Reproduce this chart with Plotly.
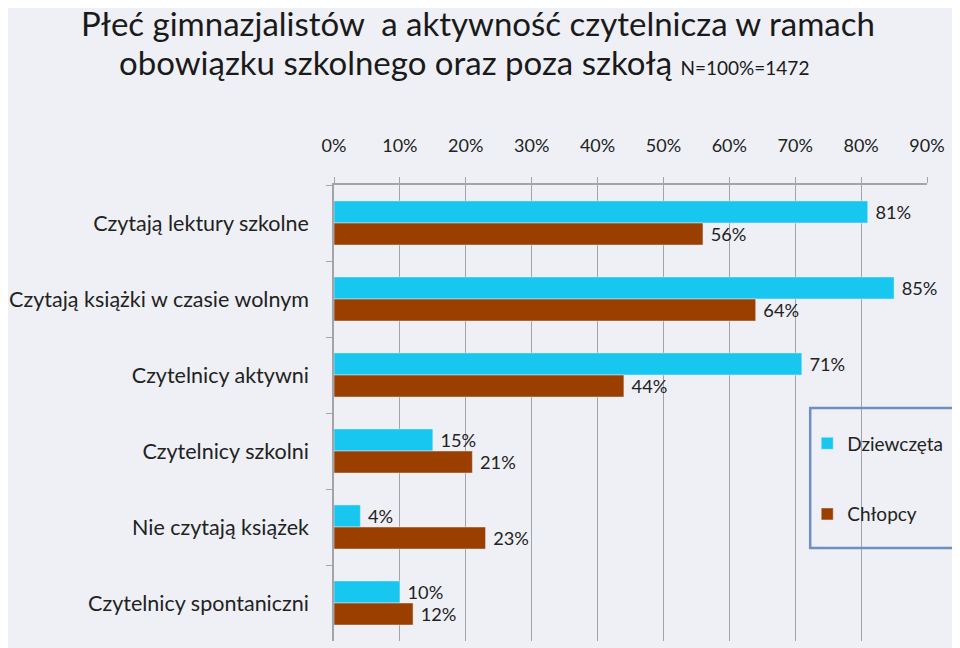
import plotly.graph_objects as go

categories = [
    "Czytają lektury szkolne",
    "Czytają książki w czasie wolnym",
    "Czytelnicy aktywni",
    "Czytelnicy szkolni",
    "Nie czytają książek",
    "Czytelnicy spontaniczni",
]
dziewczeta = [81, 85, 71, 15, 4, 10]
chlopcy = [56, 64, 44, 21, 23, 12]
x_ticks = [0, 10, 20, 30, 40, 50, 60, 70, 80, 90]
x_labels = [f"{v}%" for v in x_ticks]

FONT = "Lato"
GRID = "#a2a4aa"
TXT = "#222222"

fig = go.Figure()
fig.add_trace(go.Bar(
    y=categories, x=dziewczeta, orientation="h", name="Dziewczęta",
    marker=dict(color="#17c7f0"), legendgroup="a",
    text=[f" {v}%" for v in dziewczeta], textposition="outside",
    textfont=dict(size=19, color=TXT, family=FONT), cliponaxis=False,
))
fig.add_trace(go.Bar(
    y=categories, x=chlopcy, orientation="h", name="Chłopcy",
    marker=dict(color="#9b3f00"), legendgroup="b",
    text=[f" {v}%" for v in chlopcy], textposition="outside",
    textfont=dict(size=19, color=TXT, family=FONT), cliponaxis=False,
))

# title lines as annotations (second line has a smaller N part)
fig.add_annotation(
    text="Płeć gimnazjalistów  a aktywność czytelnicza w ramach",
    xref="paper", yref="paper", x=0.243, y=1.356,
    xanchor="center", yanchor="middle", showarrow=False,
    font=dict(size=33, color="#1a1a1a", family=FONT),
)
fig.add_annotation(
    text="obowiązku szkolnego oraz poza szkołą <span style='font-size:19px'>N=100%=1472</span>",
    xref="paper", yref="paper", x=0.22, y=1.27,
    xanchor="center", yanchor="middle", showarrow=False,
    font=dict(size=33, color="#1a1a1a", family=FONT),
)

# legend frame
fig.add_shape(
    type="rect", xref="paper", yref="paper",
    x0=0.803, x1=1.047, y0=0.204, y1=0.511,
    line=dict(color="#6d8fc6", width=2.5), fillcolor="rgba(0,0,0,0)",
)

fig.update_layout(
    width=952, height=640,
    margin=dict(l=326, r=33, t=177, b=7),
    paper_bgcolor="#eef0f5", plot_bgcolor="#eef0f5",
    font=dict(family=FONT, color=TXT),
    barmode="group", bargap=0.42, bargroupgap=0,
    xaxis=dict(
        side="top", range=[0, 90], tickvals=x_ticks, ticktext=x_labels,
        showgrid=True, gridcolor=GRID, gridwidth=1,
        showline=True, linecolor=GRID, linewidth=1.5,
        ticks="outside", ticklen=6, tickcolor=GRID,
        tickfont=dict(size=18, color=TXT), ticklabelstandoff=18,
        zeroline=False, automargin=False,
    ),
    yaxis=dict(
        autorange="reversed", showline=True, linecolor=GRID, linewidth=1.5,
        ticks="outside", ticklen=6, tickcolor=GRID, tickson="boundaries",
        tickfont=dict(size=21.5, color=TXT), ticklabelstandoff=19,
        showgrid=False, automargin=False,
    ),
    legend=dict(
        x=0.798, y=0.475, xanchor="left", yanchor="top",
        bgcolor="rgba(0,0,0,0)", borderwidth=0,
        font=dict(size=19, color=TXT), traceorder="grouped",
        tracegroupgap=43,
    ),
)

fig.write_html("out.html")
